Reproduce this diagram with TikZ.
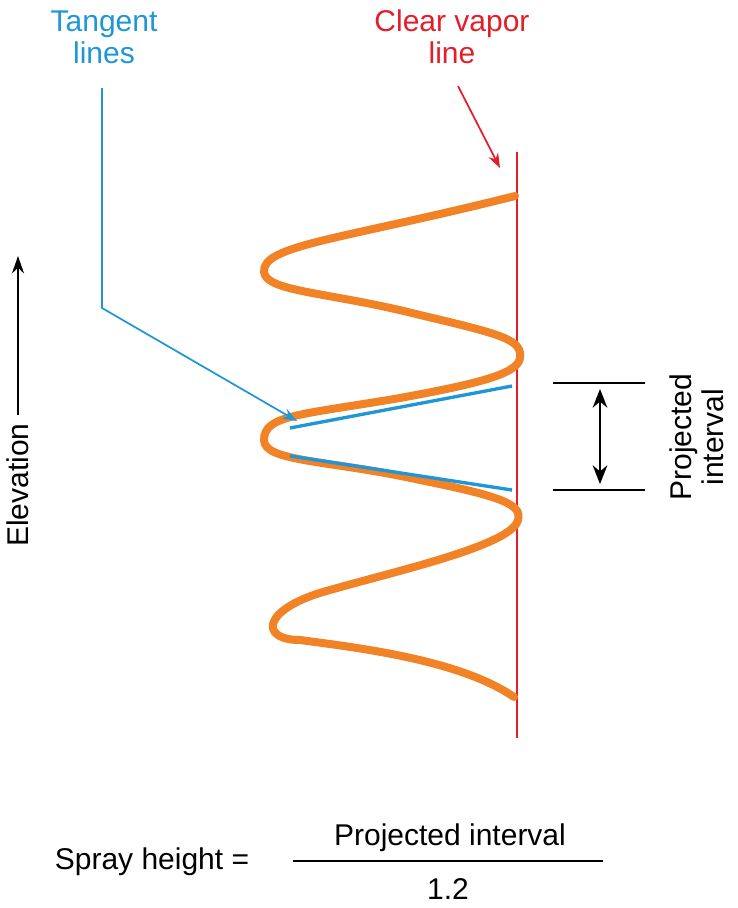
\documentclass[tikz,border=0pt]{standalone}
\usepackage{fontspec}
\setmainfont{Liberation Sans}
\usetikzlibrary{arrows.meta}
\definecolor{myorange}{RGB}{241,130,38}
\definecolor{myblue}{RGB}{30,150,215}
\definecolor{myred}{RGB}{228,30,40}
\begin{document}
\begin{tikzpicture}[x=0.75pt,y=-0.75pt,
  lbl/.style={font=\fontsize{22.5}{26}\selectfont,align=center,inner sep=0pt},
  curve/.style={myorange,line width=6pt,line cap=round,line join=round}]
\useasboundingbox (0,0) rectangle (738,908);
% red line
\coordinate (rt) at (517,152); \coordinate (rb) at (517,738);
\draw[myred,line width=1.6pt] (rt) -- (rb);
\node[lbl,text=myred] (cv) at (452,37) {Clear vapor\\[-2pt]line};
\coordinate (ra) at (500,168);
\draw[myred,line width=1.3pt,-{Stealth[length=11pt,width=8pt]}] (458,86) -- (ra);
% orange curve
\draw[curve] (515,196) .. controls (340,240) and (262,245) .. (264,272)
 .. controls (266,292) and (330,292) .. (420,315)
 .. controls (505,335) and (522,340) .. (520,358)
 .. controls (518,375) and (470,385) .. (400,398)
 .. controls (300,415) and (264,415) .. (264,440)
 .. controls (264,462) and (330,460) .. (420,480)
 .. controls (505,497) and (522,505) .. (518,520)
 .. controls (512,545) and (400,570) .. (330,590)
 .. controls (262,608) and (258,640) .. (300,640)
 .. controls (360,648) and (460,660) .. (514,697);
% tangent lines
\draw[myblue,line width=2.5pt] (290,428) -- (512,386);
\draw[myblue,line width=2.5pt] (290,456) -- (512,490);
\node[lbl,text=myblue] (tl) at (104,37) {Tangent\\[-2pt]lines};
\coordinate (tb) at (102,308); \coordinate (ta) at (297,421);
\draw[myblue,line width=1.3pt,-{Stealth[length=11pt,width=8pt]}] (102,88) -- (tb) -- (ta);
% elevation
\node[lbl,rotate=90] (el) at (18,485) {Elevation};
\draw[line width=1.6pt,-{Stealth[length=13pt,width=9pt]}] (18,415) -- (18,256);
% projected interval
\draw[line width=1.2pt] (553,383) -- (645,383);
\draw[line width=1.2pt] (553,490) -- (645,490);
\draw[line width=2pt,{Stealth[length=14pt,width=11pt]}-{Stealth[length=14pt,width=11pt]}] (600,389) -- (600,484);
\node[lbl,rotate=90] (pi) at (697,437) {Projected\\[-2pt]interval};
% formula
\node[lbl] (sh) at (152,862) {Spray height =};
\draw[line width=1.5pt] (293,861) -- (603,861);
\node[lbl] (num) at (450,838) {Projected interval};
\node[lbl] (den) at (448,889) {1.2};
\end{tikzpicture}
\end{document}
